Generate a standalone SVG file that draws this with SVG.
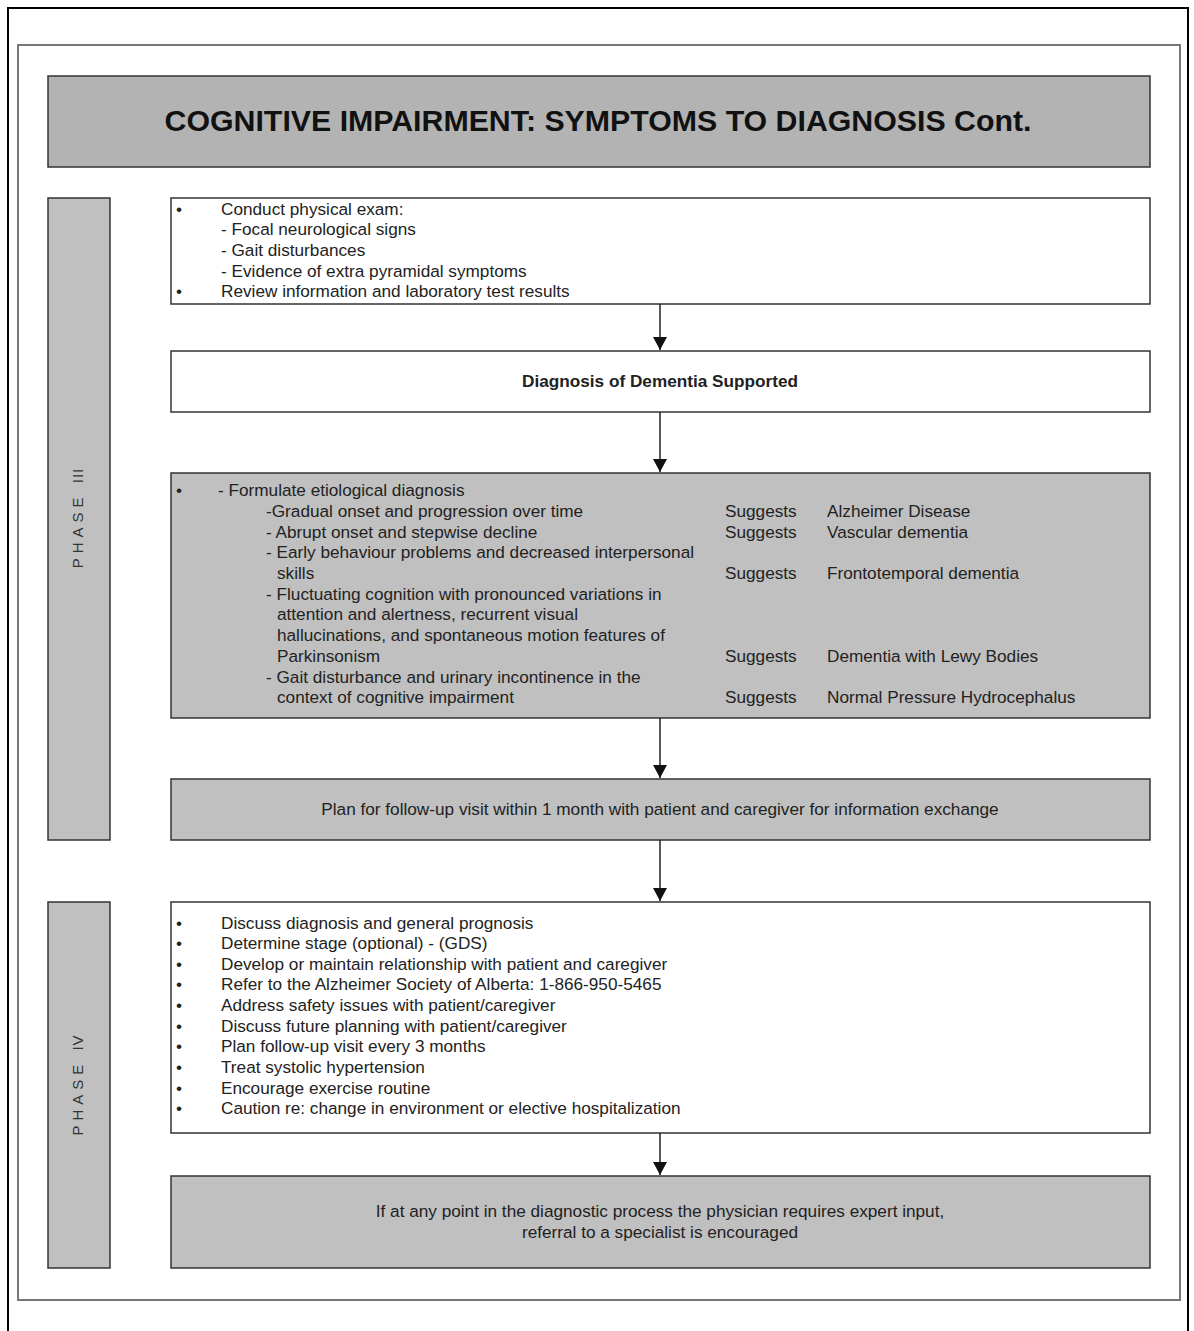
<svg xmlns="http://www.w3.org/2000/svg" width="1194" height="1331" viewBox="0 0 1194 1331">
<style>
.t{font-family:"Liberation Sans",Arial,sans-serif;font-size:17.2px;fill:#222}
.b{font-weight:bold}
.box{stroke:#333;stroke-width:1.5}
.w{fill:#fff}
.g{fill:#c0c0c0}
.ph{font-family:"Liberation Sans",Arial,sans-serif;font-size:15px;fill:#333;letter-spacing:5px}
.c{stroke:#222;stroke-width:1.5;fill:none}
</style>
<defs>
<marker id="ah" markerWidth="13" markerHeight="14" refX="13" refY="7" orient="auto" markerUnits="userSpaceOnUse" viewBox="0 0 13 14">
<path d="M0,0 L13,7 L0,14 Z" fill="#111"/>
</marker>
</defs>
<rect x="0" y="0" width="1194" height="1331" fill="#fff"/>
<path d="M8,1331 V8 H1188 V1331" fill="none" stroke="#000" stroke-width="2"/>
<rect x="18" y="45" width="1162" height="1255" fill="#fff" stroke="#777" stroke-width="2"/>

<g id="title">
<rect class="box" x="48" y="76" width="1102" height="91" fill="#b3b3b3"/>
<text class="t b" x="598" y="131" text-anchor="middle" style="font-size:30.3px;fill:#111">COGNITIVE IMPAIRMENT: SYMPTOMS TO DIAGNOSIS Cont.</text>
</g>

<g id="phase3">
<rect class="box g" x="48" y="198" width="62" height="642"/>
<text class="ph" transform="translate(83,518) rotate(-90)" text-anchor="middle">PHASE <tspan style="letter-spacing:1px">III</tspan></text>
</g>
<g id="phase4">
<rect class="box g" x="48" y="902" width="62" height="366"/>
<text class="ph" transform="translate(83,1085) rotate(-90)" text-anchor="middle">PHASE <tspan style="letter-spacing:1px">IV</tspan></text>
</g>

<g id="exam">
<rect class="box w" x="171" y="198" width="979" height="106"/>
<text class="t"><tspan x="176" y="215">•</tspan><tspan x="221" y="215">Conduct physical exam:</tspan>
<tspan x="221" y="235">- Focal neurological signs</tspan>
<tspan x="221" y="256">- Gait disturbances</tspan>
<tspan x="221" y="277">- Evidence of extra pyramidal symptoms</tspan>
<tspan x="176" y="297">•</tspan><tspan x="221" y="297">Review information and laboratory test results</tspan></text>
</g>

<g id="supported">
<rect class="box w" x="171" y="351" width="979" height="61"/>
<text class="t b" x="660" y="387" text-anchor="middle">Diagnosis of Dementia Supported</text>
</g>

<g id="etiology">
<rect class="box g" x="171" y="473" width="979" height="245"/>
<text class="t"><tspan x="176" y="496">•</tspan><tspan x="218" y="496">- Formulate etiological diagnosis</tspan>
<tspan x="266" y="517">-Gradual onset and progression over time</tspan>
<tspan x="266" y="538">- Abrupt onset and stepwise decline</tspan>
<tspan x="266" y="558">- Early behaviour problems and decreased interpersonal</tspan>
<tspan x="277" y="579">skills</tspan>
<tspan x="266" y="600">- Fluctuating cognition with pronounced variations in</tspan>
<tspan x="277" y="620">attention and alertness, recurrent visual</tspan>
<tspan x="277" y="641">hallucinations, and spontaneous motion features of</tspan>
<tspan x="277" y="662">Parkinsonism</tspan>
<tspan x="266" y="683">- Gait disturbance and urinary incontinence in the</tspan>
<tspan x="277" y="703">context of cognitive impairment</tspan></text>
<text class="t"><tspan x="725" y="517">Suggests</tspan><tspan x="725" y="538">Suggests</tspan><tspan x="725" y="579">Suggests</tspan><tspan x="725" y="662">Suggests</tspan><tspan x="725" y="703">Suggests</tspan></text>
<text class="t"><tspan x="827" y="517">Alzheimer Disease</tspan><tspan x="827" y="538">Vascular dementia</tspan><tspan x="827" y="579">Frontotemporal dementia</tspan><tspan x="827" y="662">Dementia with Lewy Bodies</tspan><tspan x="827" y="703">Normal Pressure Hydrocephalus</tspan></text>
</g>

<g id="followup">
<rect class="box g" x="171" y="779" width="979" height="61"/>
<text class="t" x="660" y="815" text-anchor="middle">Plan for follow-up visit within 1 month with patient and caregiver for information exchange</text>
</g>

<g id="phase4list">
<rect class="box w" x="171" y="902" width="979" height="231"/>
<text class="t"><tspan x="176" y="929">•</tspan><tspan x="176" y="949">•</tspan><tspan x="176" y="970">•</tspan><tspan x="176" y="990">•</tspan><tspan x="176" y="1011">•</tspan><tspan x="176" y="1032">•</tspan><tspan x="176" y="1052">•</tspan><tspan x="176" y="1073">•</tspan><tspan x="176" y="1094">•</tspan><tspan x="176" y="1114">•</tspan></text>
<text class="t"><tspan x="221" y="929">Discuss diagnosis and general prognosis</tspan>
<tspan x="221" y="949">Determine stage (optional) - (GDS)</tspan>
<tspan x="221" y="970">Develop or maintain relationship with patient and caregiver</tspan>
<tspan x="221" y="990">Refer to the Alzheimer Society of Alberta: 1-866-950-5465</tspan>
<tspan x="221" y="1011">Address safety issues with patient/caregiver</tspan>
<tspan x="221" y="1032">Discuss future planning with patient/caregiver</tspan>
<tspan x="221" y="1052">Plan follow-up visit every 3 months</tspan>
<tspan x="221" y="1073">Treat systolic hypertension</tspan>
<tspan x="221" y="1094">Encourage exercise routine</tspan>
<tspan x="221" y="1114">Caution re: change in environment or elective hospitalization</tspan></text>
</g>

<g id="referral">
<rect class="box g" x="171" y="1176" width="979" height="92"/>
<text class="t" text-anchor="middle"><tspan x="660" y="1217">If at any point in the diagnostic process the physician requires expert input,</tspan><tspan x="660" y="1238">referral to a specialist is encouraged</tspan></text>
</g>

<g id="connectors">
<line class="c" x1="660" y1="304" x2="660" y2="350" marker-end="url(#ah)"/>
<line class="c" x1="660" y1="412" x2="660" y2="472" marker-end="url(#ah)"/>
<line class="c" x1="660" y1="718" x2="660" y2="778" marker-end="url(#ah)"/>
<line class="c" x1="660" y1="840" x2="660" y2="901" marker-end="url(#ah)"/>
<line class="c" x1="660" y1="1133" x2="660" y2="1175" marker-end="url(#ah)"/>
</g>
</svg>
